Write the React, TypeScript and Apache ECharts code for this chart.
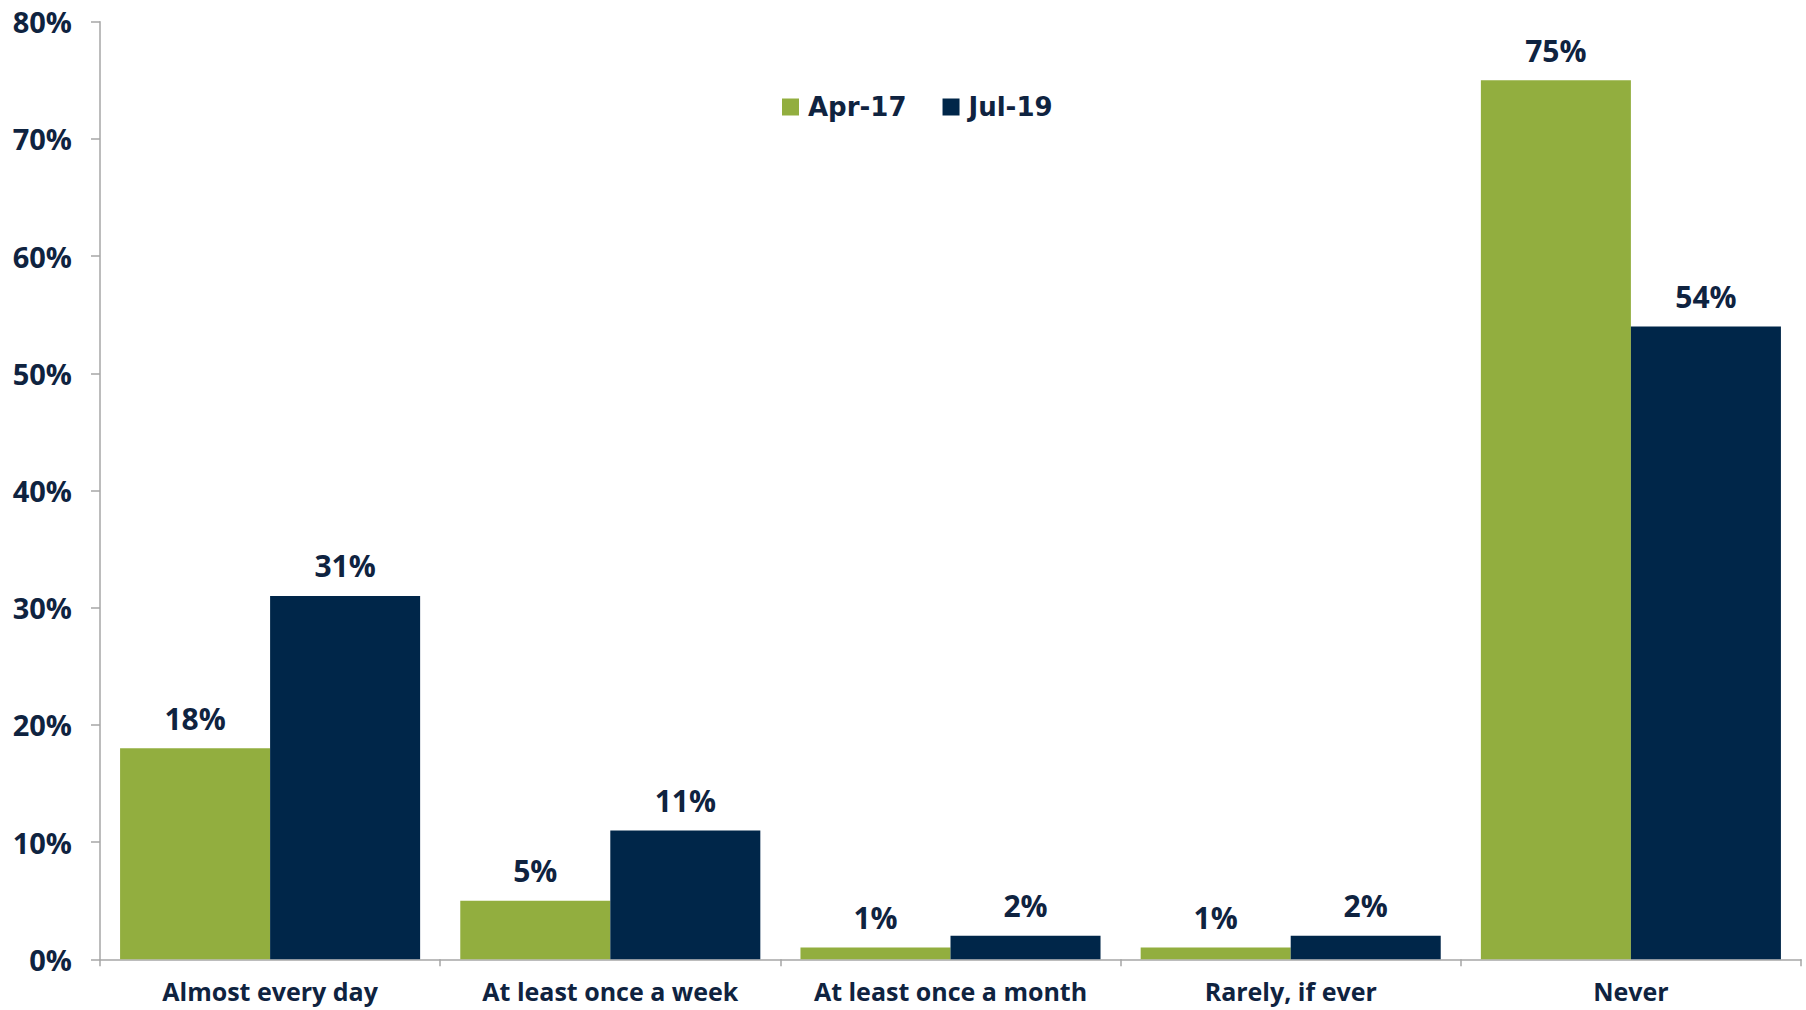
import React, { useEffect, useRef } from "react";
import * as echarts from "echarts";

const categories = ["Almost every day", "At least once a week", "At least once a month", "Rarely, if ever", "Never"];
const apr17 = [18, 5, 1, 1, 75];
const jul19 = [31, 11, 2, 2, 54];
const seriesNames = ["Apr-17", "Jul-19"];
const yTicks = [0, 10, 20, 30, 40, 50, 60, 70, 80];

const GREEN = "#92AE3F";
const NAVY = "#002649";
const TEXT = "#0F2340";
const FONT = "Open Sans";
const LEGEND_FONT = "DejaVu Sans";

export default function App() {
  const ref = useRef<HTMLDivElement>(null);
  useEffect(() => {
    const chart = echarts.init(ref.current!, null, { renderer: "svg" });
    const label = {
      show: true,
      position: "top",
      distance: 15,
      formatter: (p: any) => p.value + "%",
      color: TEXT,
      fontFamily: FONT,
      fontWeight: "bold",
      fontSize: 30,
    };
    chart.setOption({
      animation: false,
      backgroundColor: "#ffffff",
      legend: {
        data: seriesNames,
        left: 777,
        top: 89,
        itemWidth: 17,
        itemHeight: 17,
        itemGap: 36,
        icon: "rect",
        textStyle: { color: TEXT, fontFamily: LEGEND_FONT, fontWeight: "bold", fontSize: 26, padding: [0, 0, 0, 4] },
      },
      grid: { left: 100, right: 5, top: 21.7, bottom: 50.7, containLabel: false },
      xAxis: {
        type: "category",
        data: categories,
        axisLine: { lineStyle: { color: "#A6A6A6", width: 1.5 } },
        axisTick: { show: true, length: 7, lineStyle: { color: "#A6A6A6", width: 1.5 } },
        axisLabel: { color: TEXT, fontFamily: FONT, fontWeight: "bold", fontSize: 25, margin: 19, interval: 0 },
      },
      yAxis: {
        type: "value",
        min: yTicks[0],
        max: yTicks[yTicks.length - 1],
        interval: 10,
        splitLine: { show: false },
        axisLine: { show: true, lineStyle: { color: "#A6A6A6", width: 1.5 } },
        axisTick: { show: true, length: 9, lineStyle: { color: "#A6A6A6", width: 1.5 } },
        axisLabel: { color: TEXT, fontFamily: FONT, fontWeight: "bold", fontSize: 29, margin: 28, formatter: "{value}%" },
      },
      series: [
        { name: seriesNames[0], type: "bar", data: apr17, itemStyle: { color: GREEN }, barGap: "0%", barCategoryGap: "11.8%", label },
        { name: seriesNames[1], type: "bar", data: jul19, itemStyle: { color: NAVY }, barGap: "0%", barCategoryGap: "11.8%", label },
      ],
    });
    return () => chart.dispose();
  }, []);
  return <div ref={ref} style={{ width: 1806, height: 1010, position: "absolute", left: 0, top: 0 }} />;
}
